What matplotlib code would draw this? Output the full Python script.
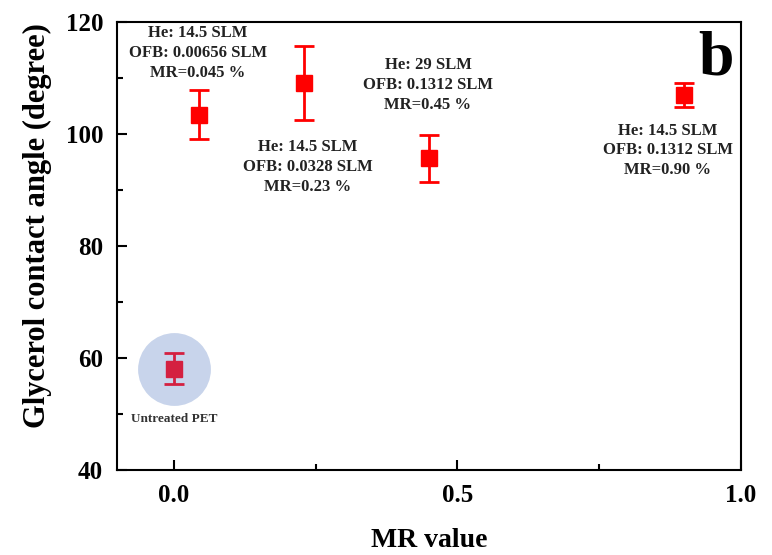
import numpy as np
import matplotlib
matplotlib.use("Agg")
import matplotlib.pyplot as plt
from matplotlib.ticker import MultipleLocator

### data
mr = [0.045, 0.23, 0.45, 0.90]
angle = [103.5, 109.2, 95.7, 107.0]
err = [4.4, 6.6, 4.2, 2.2]

untreated_mr = [0.0]
untreated_angle = [58.1]
untreated_err = [2.8]

labels = ["He: 14.5 SLM\nOFB: 0.00656 SLM\nMR=0.045 %",
          "He: 14.5 SLM\nOFB: 0.0328 SLM\nMR=0.23 %",
          "He: 29 SLM\nOFB: 0.1312 SLM\nMR=0.45 %",
          "He: 14.5 SLM\nOFB: 0.1312 SLM\nMR=0.90 %"]
label_x = [0.042, 0.236, 0.448, 0.871]
label_y = [114.5, 94.1, 108.8, 97.1]

plt.rcParams['font.family'] = ['Liberation Serif', 'DejaVu Serif']

fig = plt.figure(figsize=(7.72, 5.55), dpi=100)
ax = fig.add_axes([0.1516, 0.153, 0.8084, 0.807])

### highlight circle behind the untreated sample
ax.scatter(untreated_mr, untreated_angle, s=2750, color='#c8d4eb', zorder=1, linewidths=0)

ax.errorbar(mr, angle, yerr=err, fmt='s', color='#ff0000', ms=11,
            elinewidth=2, capsize=7, capthick=2, zorder=3)
ax.errorbar(untreated_mr, untreated_angle, yerr=untreated_err, fmt='s', color='#d42040',
            ms=11, elinewidth=2, capsize=7, capthick=2, zorder=3)

for t, x, y in zip(labels, label_x, label_y):
    ax.text(x, y, t, ha='center', va='center', fontsize=12, fontweight='bold',
            color='#222222', linespacing=1.32)

ax.text(0.0, 49.1, "Untreated PET", ha='center', va='center', fontsize=9.5,
        fontweight='bold', color='#333333')
ax.text(0.956, 113.4, "b", ha='center', va='center', fontsize=46, fontweight='bold')

ax.set_xlim(-0.1, 1.0)
ax.set_ylim(40, 120)
ax.xaxis.set_major_locator(MultipleLocator(0.5))
ax.xaxis.set_minor_locator(MultipleLocator(0.25))
ax.yaxis.set_major_locator(MultipleLocator(20))
ax.yaxis.set_minor_locator(MultipleLocator(10))
ax.set_xticks([0.0, 0.5, 1.0])
ax.set_xticklabels(["0.0", "0.5", "1.0"])

ax.tick_params(which='both', direction='in', width=1.5, labelsize=18, pad=10)
ax.tick_params(which='major', length=7)
ax.tick_params(which='minor', length=4)
for lab in ax.get_xticklabels() + ax.get_yticklabels():
    lab.set_fontweight('bold')
for s in ax.spines.values():
    s.set_linewidth(1.5)

ax.set_xlabel("MR value", fontsize=20, fontweight='bold', labelpad=15)
ax.set_ylabel("Glycerol contact angle (degree)", fontsize=22, fontweight='bold', va='center')
ax.yaxis.set_label_coords(-0.128, 0.547)

fig.savefig("out.png", dpi=100)
